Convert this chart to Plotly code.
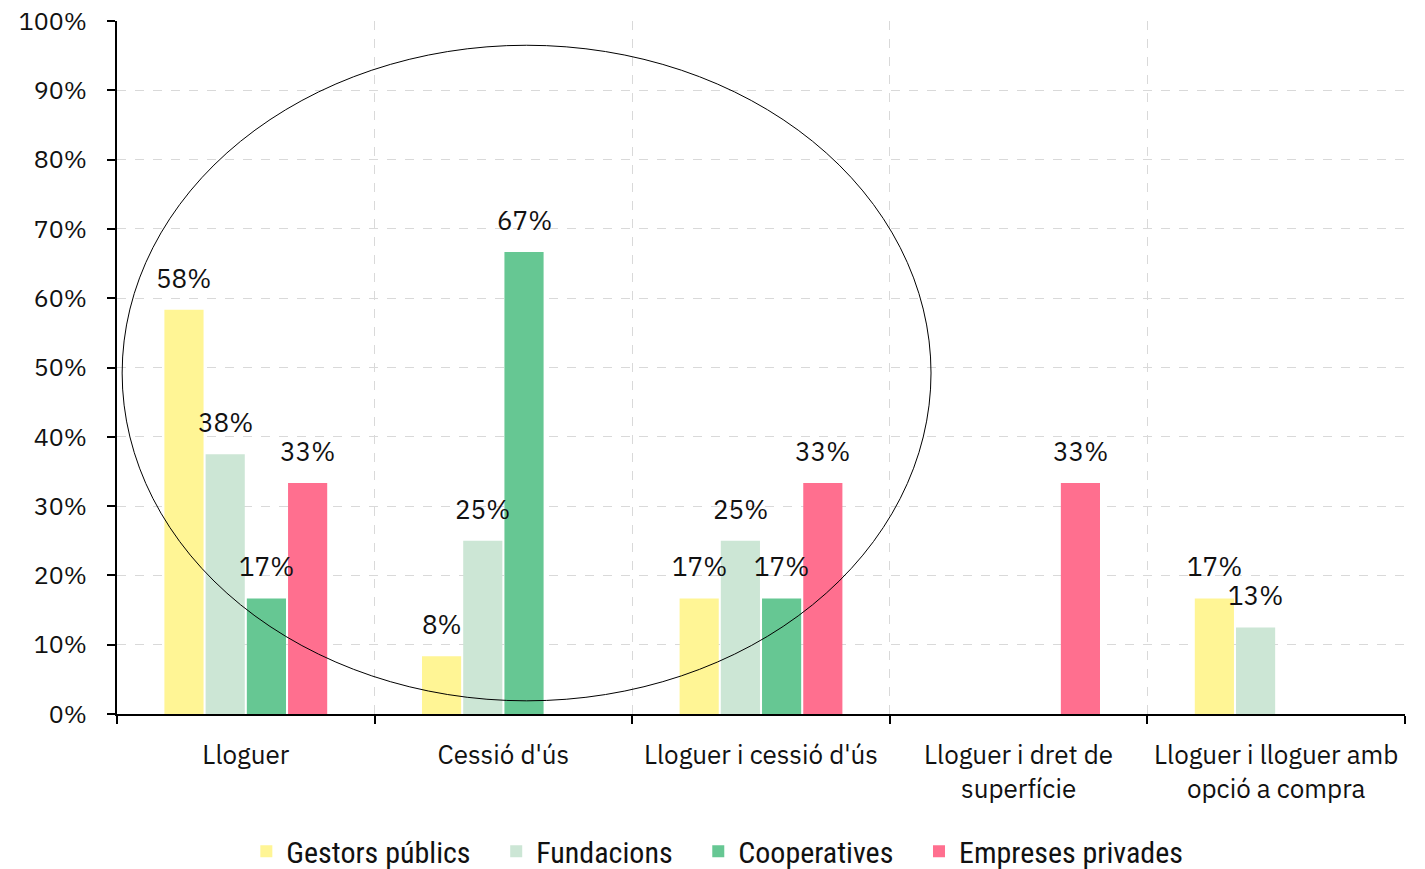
import plotly.graph_objects as go

categories = ["Lloguer", "Cessió d'ús", "Lloguer i cessió d'ús",
              "Lloguer i dret de<br>superfície", "Lloguer i lloguer amb<br>opció a compra"]
series_names = ["Gestors públics", "Fundacions", "Cooperatives", "Empreses privades"]
gestors = [0.5833, 0.0833, 0.1667, 0.0, 0.1667]
fundacions = [0.375, 0.25, 0.25, 0.0, 0.125]
cooperatives = [0.1667, 0.6667, 0.1667, 0.0, 0.0]
empreses = [0.3333, 0.0, 0.3333, 0.3333, 0.0]
colors = ["#FFF595", "#CCE6D5", "#66C793", "#FF6F8F"]
y_ticks = [i / 10 for i in range(11)]

font_main = "IBM Plex Sans, Noto Sans, sans-serif"
legend_font = "Liberation Sans Narrow, Roboto Condensed, Arial Narrow, sans-serif"

BARGAP = 0.36
GROUPGAP = 0.05

def lab(v):
    return f"{int(v * 100 + 0.5)}%"

all_series = [gestors, fundacions, cooperatives, empreses]
n = len(all_series)
slot = (1 - BARGAP) / n

fig = go.Figure()
annotations = []
for k, (name, vals, col) in enumerate(zip(series_names, all_series, colors)):
    fig.add_trace(go.Bar(
        name=name + "\u00a0\u00a0\u00a0", x=categories, y=[v if v > 0 else None for v in vals],
        marker=dict(color=col, line=dict(width=0)),
    ))
    off = (k - (n - 1) / 2) * slot
    for i, v in enumerate(vals):
        if v > 0:
            annotations.append(dict(
                x=i + off, y=v, xref="x", yref="y", text=lab(v), showarrow=False,
                yanchor="middle", yshift=32,
                font=dict(size=26, color="#111111", family=font_main),
            ))

fig.update_layout(
    width=1417, height=861,
    margin=dict(l=109, r=20, t=13, b=155, autoexpand=False),
    plot_bgcolor="white", paper_bgcolor="white",
    barmode="group", bargap=BARGAP, bargroupgap=GROUPGAP,
    font=dict(family=font_main, size=26, color="#111111"),
    showlegend=True,
    annotations=annotations,
    legend=dict(orientation="h", x=0.508, xanchor="center", xref="container",
                y=-0.198, yanchor="middle", yref="paper",
                font=dict(family=legend_font, size=30, color="#111111"),
                itemwidth=30, traceorder="normal", tracegroupgap=0),
)
fig.update_xaxes(
    tickson="boundaries", showgrid=True, gridcolor="#D9D9D9", griddash="dash", gridwidth=1,
    showline=True, linecolor="black", linewidth=2, automargin=False,
    ticks="outside", ticklen=8, tickwidth=2, tickcolor="black",
    ticklabelstandoff=17, tickfont=dict(size=26, color="#111111"),
    ticklabeloverflow="allow",
)
fig.update_yaxes(
    range=[0, 1], tickvals=y_ticks, tickformat=".0%", automargin=False,
    showgrid=True, gridcolor="#D9D9D9", griddash="dash", gridwidth=1,
    showline=True, linecolor="black", linewidth=2,
    ticks="outside", ticklen=8, tickwidth=2, tickcolor="black",
    ticklabelstandoff=15, tickfont=dict(size=25, color="#111111"), zeroline=False,
    ticklabeloverflow="allow",
)
fig.add_shape(type="circle", xref="paper", yref="y",
              x0=0.004, x1=0.632, y0=0.019, y1=0.965,
              line=dict(color="black", width=1), fillcolor="rgba(0,0,0,0)")

fig.write_html("out.html")
